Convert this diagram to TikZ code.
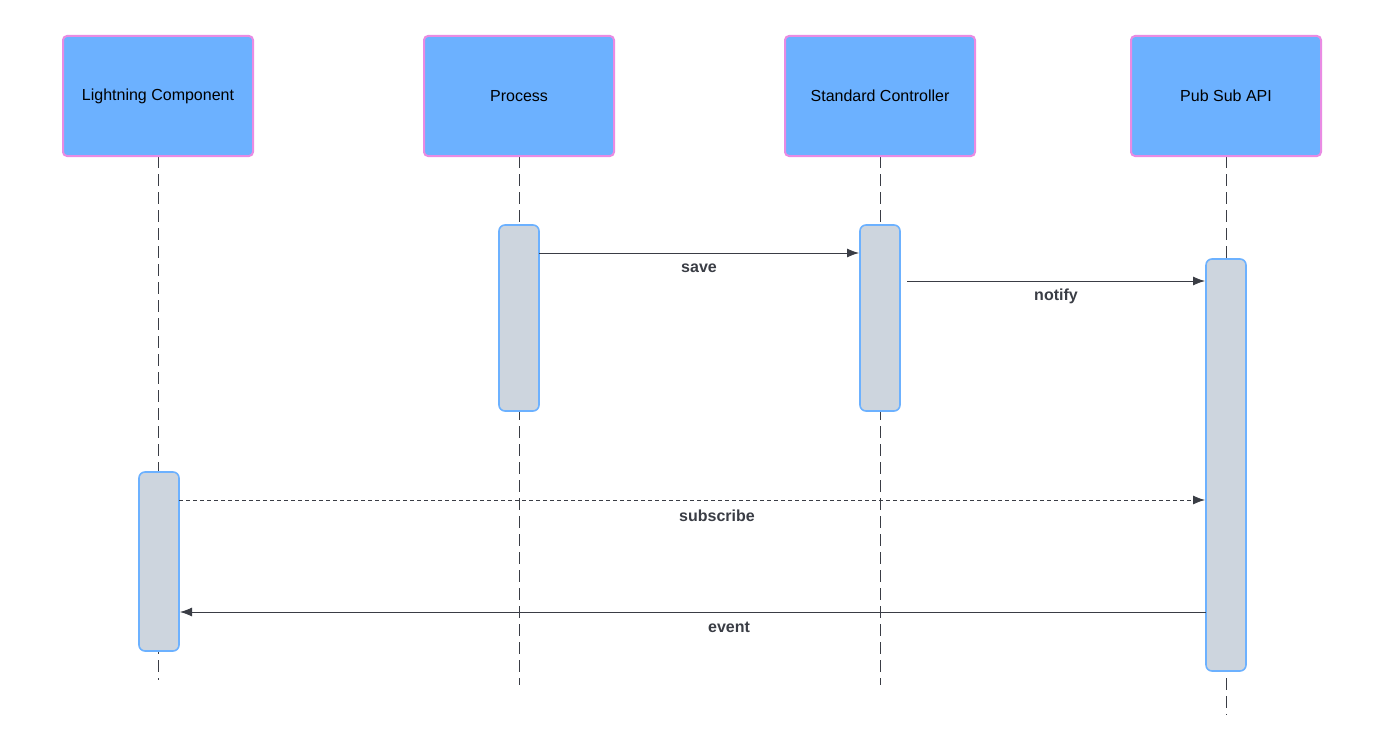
\documentclass[tikz,border=0pt]{standalone}
\usepackage{fontspec}
\setmainfont{Liberation Sans}
\usetikzlibrary{arrows.meta}
\definecolor{actorfill}{HTML}{6CB1FF}
\definecolor{actorline}{HTML}{E98BE3}
\definecolor{actfill}{HTML}{CDD5DE}
\definecolor{actline}{HTML}{6CB1FF}
\definecolor{msgline}{HTML}{3A3D45}

\begin{document}
\begin{tikzpicture}[x=0.5pt,y=-0.5pt,
    actor/.style={draw=actorline,fill=actorfill,line width=1pt,rounded corners=2pt,
      minimum width=95pt,minimum height=60pt,font=\fontsize{8}{10}\selectfont},
    activation/.style={draw=actline,fill=actfill,line width=0.8pt,rounded corners=3pt},
    lifeline/.style={draw=msgline,line width=0.4pt,dash pattern=on 6pt off 3pt},
    msg/.style={draw=msgline,line width=0.4pt,-{Latex[length=6pt,width=4.5pt]}},
    msglabel/.style={font=\fontsize{8}{10}\selectfont\bfseries,text=msgline}]
    \useasboundingbox (0,0) rectangle (1386,749);

    % LIFELINES
    \coordinate (LC_END) at (158,680);
    \coordinate (PR_END) at (519,685);
    \coordinate (SC_END) at (880,685);
    \coordinate (PS_END) at (1226,715);
    \coordinate (LC_TOP) at (158,156);
    \coordinate (PR_TOP) at (519,156);
    \coordinate (SC_TOP) at (880,156);
    \coordinate (PS_TOP) at (1226,156);
    \draw[lifeline] (LC_TOP) -- (LC_END);
    \draw[lifeline] (PR_TOP) -- (PR_END);
    \draw[lifeline] (SC_TOP) -- (SC_END);
    \draw[lifeline] (PS_TOP) -- (PS_END);

    % ACTORS
    \node[actor] (LC) at (158,96) {Lightning Component};
    \node[actor] (PR) at (519,96) {Process};
    \node[actor] (SC) at (880,96) {Standard Controller};
    \node[actor] (PS) at (1226,96) {Pub Sub API};

    % ACTIVATIONS
    \draw[activation] (499,225) rectangle (539,411);
    \draw[activation] (860,225) rectangle (900,411);
    \draw[activation] (1206,259) rectangle (1246,671);
    \draw[activation] (139,472) rectangle (179,651);

    % MESSAGES
    \coordinate (SAVE_A) at (539,253);
    \coordinate (SAVE_B) at (859,253);
    \coordinate (NOTIFY_A) at (907,281);
    \coordinate (NOTIFY_B) at (1205,281);
    \coordinate (SUB_A) at (179,500);
    \coordinate (SUB_B) at (1205,500);
    \coordinate (EVENT_A) at (1206,612);
    \coordinate (EVENT_B) at (180,612);
    \draw[msg] (SAVE_A) -- (SAVE_B);
    \draw[msg] (NOTIFY_A) -- (NOTIFY_B);
    \draw[msg,dash pattern=on 2pt off 1.5pt] (SUB_A) -- (SUB_B);
    \draw[msg] (EVENT_A) -- (EVENT_B);
    \node[msglabel] (SAVE) at (699,268) {save};
    \node[msglabel] (NOTIFY) at (1056,296) {notify};
    \node[msglabel] (SUB) at (717,516) {subscribe};
    \node[msglabel] (EVENT) at (729,627) {event};
\end{tikzpicture}
\end{document}
